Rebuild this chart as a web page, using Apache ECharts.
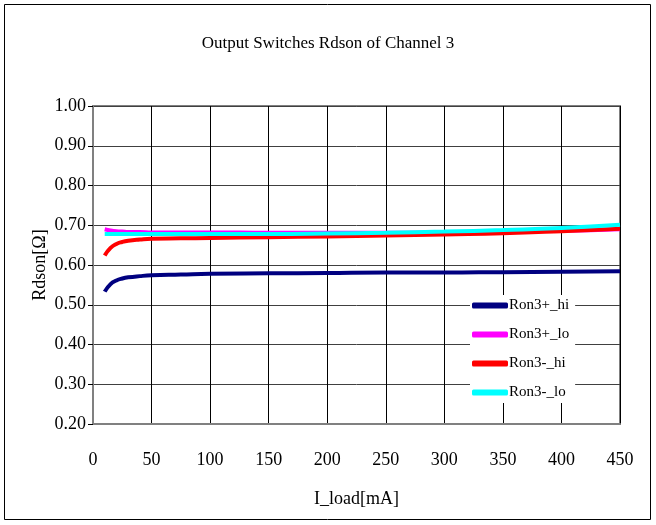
<!DOCTYPE html>
<html><head><meta charset="utf-8">
<script src="https://cdn.jsdelivr.net/npm/echarts@6/dist/echarts.min.js"></script>
<style>html,body{margin:0;padding:0;background:#fff}#c{width:656px;height:525px}</style>
</head><body><div id="c"></div>
<script>
var titleText = 'Output Switches Rdson of Channel 3';
var xName = 'I_load[mA]';
var yName = 'Rdson[Ω]';
var xLoad = [10, 15, 20, 25, 30, 40, 50, 75, 100, 150, 200, 250, 300, 350, 400, 450];
var ron3PlusHi  = [0.533, 0.552, 0.561, 0.566, 0.569, 0.572, 0.574, 0.576, 0.578, 0.579, 0.580, 0.581, 0.581, 0.582, 0.583, 0.584];
var ron3PlusLo  = [0.690, 0.687, 0.685, 0.684, 0.683, 0.683, 0.682, 0.682, 0.682, 0.681, 0.681, 0.681, 0.682, 0.684, 0.686, 0.690];
var ron3MinusHi = [0.624, 0.643, 0.653, 0.658, 0.661, 0.664, 0.666, 0.667, 0.668, 0.670, 0.672, 0.674, 0.677, 0.680, 0.685, 0.691];
var ron3MinusLo = [0.678, 0.678, 0.678, 0.678, 0.678, 0.678, 0.678, 0.678, 0.678, 0.678, 0.679, 0.681, 0.684, 0.688, 0.693, 0.701];
var names = ['Ron3+_hi', 'Ron3+_lo', 'Ron3-_hi', 'Ron3-_lo'];
var colors = ['#000080', '#ff00ff', '#ff0000', '#00ffff'];
var seriesData = [ron3PlusHi, ron3PlusLo, ron3MinusHi, ron3MinusLo];

function pairs(ys){ return xLoad.map(function(x,i){ return [x, ys[i]]; }); }
var font = 'Liberation Serif';
var chart = echarts.init(document.getElementById('c'));
chart.setOption({
  animation: false,
  backgroundColor: '#fff',
  textStyle: {fontFamily: font},
  title: {text: titleText, left: 'center', top: 30, textStyle: {fontFamily: font, fontSize: 17, fontWeight: 'normal', color: '#000'}},
  graphic: [
    {type: 'rect', shape: {x: 4.5, y: 4.5, width: 646, height: 515}, style: {fill: null, stroke: '#000', lineWidth: 1}, z: -10},
    {type: 'text', x: 40, y: 265, rotation: Math.PI / 2,
      style: {text: yName, font: '18px "Liberation Serif"', fill: '#000', align: 'center', verticalAlign: 'middle'}}
  ],
  grid: {left: 93, right: 36, top: 106, bottom: 101, show: true, borderColor: '#808080', borderWidth: 2},
  legend: {
    orient: 'vertical', left: 470, top: 295, itemGap: 14, itemWidth: 36, itemHeight: 6,
    backgroundColor: '#fff', padding: [3, 6, 3, 2],
    icon: 'roundRect',
    textStyle: {fontFamily: font, fontSize: 15, color: '#000', padding: [0, 0, 0, -4]},
    data: names
  },
  xAxis: {
    type: 'value', min: 0, max: 450, interval: 50,
    name: xName, nameLocation: 'middle', nameGap: 66,
    nameTextStyle: {fontFamily: font, fontSize: 18, color: '#000'},
    axisLine: {lineStyle: {color: '#808080', width: 2}},
    axisTick: {show: false},
    axisLabel: {fontFamily: font, fontSize: 18, color: '#000', margin: 27},
    splitLine: {show: true, lineStyle: {color: '#000', width: 1}}
  },
  yAxis: {
    type: 'value', min: 0.2, max: 1.0, interval: 0.1,
    axisLine: {show: true, lineStyle: {color: '#808080', width: 2}},
    axisTick: {show: true, inside: false, length: 5, lineStyle: {color: '#000'}},
    axisLabel: {fontFamily: font, fontSize: 18, color: '#000', margin: 7, formatter: function(v){ return v.toFixed(2); }},
    splitLine: {show: true, lineStyle: {color: '#404040', width: 1}}
  },
  series: seriesData.map(function(d, i){
    return {name: names[i], type: 'line', data: pairs(d), smooth: true, showSymbol: false,
      color: colors[i], lineStyle: {width: 4, color: colors[i]}, z: 2 + i};
  })
});
</script></body></html>
